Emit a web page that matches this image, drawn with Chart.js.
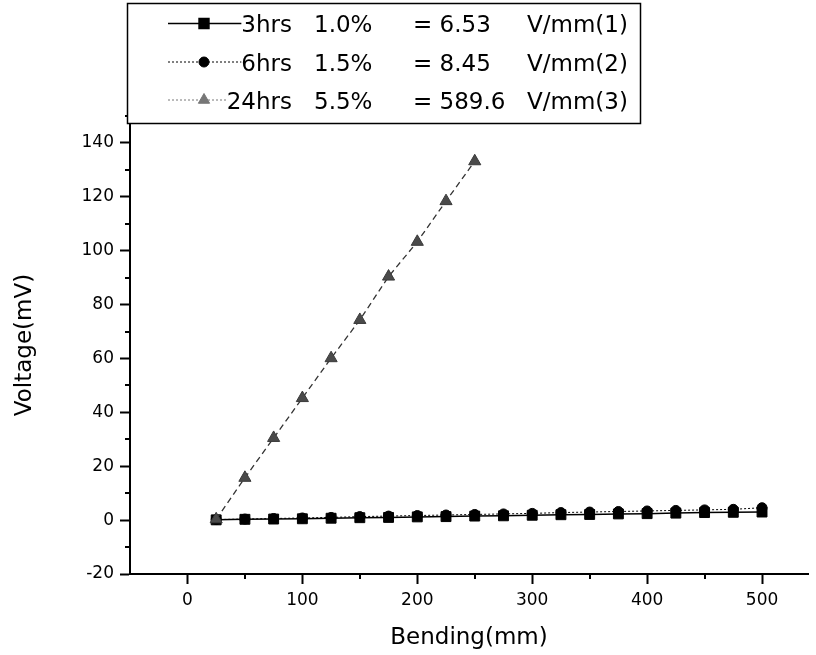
<!DOCTYPE html>
<html>
<head>
<meta charset="utf-8">
<script src="https://cdn.jsdelivr.net/npm/chart.js@4.4.0/dist/chart.umd.min.js"></script>
<style>
  html, body { margin: 0; padding: 0; background: #fff; }
</style>
</head>
<body>
<canvas id="chart" width="816" height="655"></canvas>
<script>
// bending positions (mm)
const bending = [25, 50, 75, 100, 125, 150, 175, 200, 225, 250, 275, 300, 325, 350, 375, 400, 425, 450, 475, 500];
const bending24 = [25, 50, 75, 100, 125, 150, 175, 200, 225, 250];

// voltage readings (mV)
const volt3h = [0.1, 0.3, 0.4, 0.5, 0.7, 0.9, 1.0, 1.2, 1.3, 1.5, 1.6, 1.8, 2.0, 2.1, 2.3, 2.4, 2.6, 2.8, 2.9, 3.0];
const volt6h = [0.2, 0.4, 0.6, 0.8, 1.0, 1.3, 1.5, 1.7, 1.9, 2.1, 2.3, 2.5, 2.8, 3.0, 3.2, 3.4, 3.6, 3.8, 4.0, 4.6];
const volt24h = [0.3, 15.7, 30.5, 45.3, 60.1, 74.3, 90.4, 103.3, 118.4, 133.2];

// legend columns
const seriesNames = ['3hrs', '6hrs', '24hrs'];
const concentration = ['1.0%', '1.5%', '5.5%'];
const sensitivity = ['= 6.53', '= 8.45', '= 589.6'];
const units = ['V/mm(1)', 'V/mm(2)', 'V/mm(3)'];

// tick values
const xTickValues = [-50, 0, 50, 100, 150, 200, 250, 300, 350, 400, 450, 500];
const yTickValues = [-20, -10, 0, 10, 20, 30, 40, 50, 60, 70, 80, 90, 100, 110, 120, 130, 140, 150];

const FONT = 'DejaVu Sans';

function pairs(xs, ys) {
    return xs.map((x, i) => ({ x: x, y: ys[i] }));
}

// short minor ticks, Chart.js draws the long major ones
const minorTicks = {
    id: 'minorTicks',
    afterDraw(chart) {
        const c = chart.ctx;
        const xs = chart.scales.x, ys = chart.scales.y;
        const area = chart.chartArea;
        c.save();
        c.strokeStyle = '#000';
        c.lineWidth = 2;
        c.beginPath();
        xTickValues.filter(v => v % 100 !== 0 && v > -50).forEach(v => {
            const px = Math.round(xs.getPixelForValue(v));
            c.moveTo(px, area.bottom);
            c.lineTo(px, area.bottom + 5);
        });
        yTickValues.filter(v => v % 20 !== 0).forEach(v => {
            const py = Math.round(ys.getPixelForValue(v));
            c.moveTo(area.left, py);
            c.lineTo(area.left - 5, py);
        });
        c.stroke();
        c.restore();
    }
};

const legendStyles = [
    { dash: [], width: 1.5, color: '#000', style: 'rect', radius: 7, fill: '#000' },
    { dash: [2, 2], width: 1, color: '#000', style: 'circle', radius: 5, fill: '#000' },
    { dash: [2, 2], width: 1, color: '#777', style: 'triangle', radius: 6.5, fill: '#777' }
];

const legendBox = {
    id: 'legendBox',
    afterDraw(chart) {
        const c = chart.ctx;
        c.save();
        c.fillStyle = '#fff';
        c.fillRect(127, 3, 514, 121);
        c.strokeStyle = '#000';
        c.lineWidth = 1.5;
        c.strokeRect(127.5, 3.5, 513, 120);

        const midY = [23.5, 62, 100];
        c.font = '23px "' + FONT + '"';
        c.textBaseline = 'alphabetic';
        for (let i = 0; i < 3; i++) {
            const s = legendStyles[i];
            const base = midY[i] + 8.5;
            const nameW = c.measureText(seriesNames[i]).width;
            const textLeft = 292 - nameW;

            c.setLineDash(s.dash);
            c.lineWidth = s.width;
            c.strokeStyle = s.color;
            c.beginPath();
            c.moveTo(168, midY[i]);
            c.lineTo(textLeft, midY[i]);
            c.stroke();
            c.setLineDash([]);

            c.fillStyle = s.fill;
            c.strokeStyle = s.fill;
            Chart.helpers.drawPoint(c, { pointStyle: s.style, radius: s.radius, borderWidth: 1, rotation: 0 }, 204, midY[i]);

            c.fillStyle = '#000';
            c.textAlign = 'right';
            c.fillText(seriesNames[i], 292, base);
            c.textAlign = 'left';
            c.fillText(concentration[i], 314, base);
            c.fillText(sensitivity[i], 413, base);
            c.fillText(units[i], 527, base);
        }
        c.restore();
    }
};

new Chart(document.getElementById('chart'), {
    type: 'line',
    data: {
        datasets: [
            {
                label: seriesNames[0],
                data: pairs(bending, volt3h),
                borderColor: '#000',
                backgroundColor: '#000',
                borderWidth: 1.5,
                pointStyle: 'rect',
                pointRadius: 7,
                pointBorderWidth: 1,
                order: 1
            },
            {
                label: seriesNames[1],
                data: pairs(bending, volt6h),
                borderColor: '#000',
                backgroundColor: '#000',
                borderWidth: 1,
                borderDash: [2, 2],
                pointStyle: 'circle',
                pointRadius: 5,
                pointBorderWidth: 1,
                order: 2
            },
            {
                label: seriesNames[2],
                data: pairs(bending24, volt24h),
                borderColor: '#333',
                backgroundColor: '#4a4a4a',
                pointBorderColor: '#3a3a3a',
                borderWidth: 1.3,
                borderDash: [6, 4],
                pointStyle: 'triangle',
                pointRadius: 7,
                pointBorderWidth: 1,
                order: 0
            }
        ]
    },
    options: {
        responsive: false,
        animation: false,
        layout: { padding: { top: 116, right: 0, left: 0, bottom: 0 } },
        plugins: {
            legend: { display: false },
            tooltip: { enabled: false }
        },
        scales: {
            x: {
                type: 'linear',
                min: -50,
                max: 540,
                afterBuildTicks: (s) => { s.ticks = xTickValues.map(v => ({ value: v })); },
                afterFit: (s) => { s.height = 81; },
                border: { color: '#000', width: 2 },
                grid: {
                    drawOnChartArea: false,
                    tickLength: 10,
                    tickWidth: 2,
                    tickColor: (ctx) => (ctx.tick && ctx.tick.value % 100 === 0) ? '#000' : 'rgba(0,0,0,0)'
                },
                ticks: {
                    autoSkip: false,
                    maxRotation: 0,
                    padding: 6,
                    color: '#000',
                    font: { family: FONT, size: 17 },
                    callback: (v) => (v % 100 === 0 ? v : '')
                },
                title: {
                    display: true,
                    text: 'Bending(mm)',
                    color: '#000',
                    font: { family: FONT, size: 23 },
                    padding: { top: 0, bottom: 3 }
                }
            },
            y: {
                min: -20,
                max: 150,
                afterBuildTicks: (s) => { s.ticks = yTickValues.map(v => ({ value: v })); },
                afterFit: (s) => { s.width = 130; },
                border: { color: '#000', width: 2 },
                grid: {
                    drawOnChartArea: false,
                    tickLength: 10,
                    tickWidth: 2,
                    tickColor: (ctx) => (ctx.tick && ctx.tick.value % 20 === 0) ? '#000' : 'rgba(0,0,0,0)'
                },
                ticks: {
                    autoSkip: false,
                    padding: 6,
                    color: '#000',
                    font: { family: FONT, size: 17 },
                    callback: (v) => (v % 20 === 0 ? v : '')
                },
                title: {
                    display: true,
                    text: 'Voltage(mV)',
                    color: '#000',
                    font: { family: FONT, size: 23 },
                    padding: { top: 11, bottom: 0 }
                }
            }
        }
    },
    plugins: [minorTicks, legendBox]
});
</script>
</body>
</html>
